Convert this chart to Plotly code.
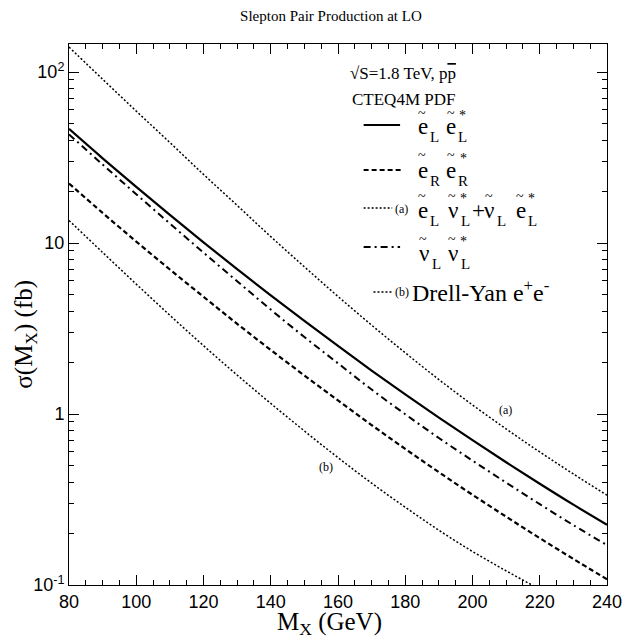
import plotly.graph_objects as go

# ---- data ----
mass = [80, 90, 100, 110, 120, 130, 140, 150, 160, 170, 180, 190, 200, 210, 220, 230, 240]
eLeL = [46.5, 31.3, 21.3, 14.6, 10.1, 7.03, 4.94, 3.50, 2.50, 1.796, 1.303, 0.953, 0.703, 0.522, 0.391, 0.295, 0.225]
eReR = [22.3, 15.0, 10.2, 7.0, 4.85, 3.37, 2.37, 1.68, 1.20, 0.862, 0.625, 0.457, 0.337, 0.251, 0.188, 0.142, 0.108]
eLnuL = [140, 90.8, 59.1, 38.7, 25.2, 16.6, 10.9, 7.26, 4.87, 3.31, 2.28, 1.59, 1.13, 0.818, 0.600, 0.446, 0.335]
nuLnuL = [43.2, 28.8, 19.3, 13.0, 8.79, 5.98, 4.08, 2.82, 1.98, 1.39, 0.997, 0.724, 0.534, 0.397, 0.297, 0.224, 0.171]
drellyan = [13.55, 8.81, 5.75, 3.78, 2.51, 1.69, 1.153, 0.796, 0.556, 0.394, 0.285, 0.209, 0.157, 0.121, 0.0944, 0.0733, 0.0569]

ytick_vals = [0.1, 1, 10, 100]
ytick_text = ["10<sup>-1</sup>", "1", "10", "10<sup>2</sup>"]
xtick_vals = [80, 100, 120, 140, 160, 180, 200, 220, 240]

W, H = 634, 642
L, R, T, B = 69, 19, 44, 57
pw, ph = W - L - R, H - T - B

def px(x):
    return (x - L) / pw

def py(y):
    return 1 - (y - T) / ph

DOT = "2px,2px"
DASH = "5px,3px"
DASHDOT = "7px,4px,2px,4px"

fig = go.Figure()
styles = [
    (eLnuL, dict(color="black", width=1.5, dash=DOT)),
    (eLeL, dict(color="black", width=2.2, dash="solid")),
    (nuLnuL, dict(color="black", width=2, dash=DASHDOT)),
    (eReR, dict(color="black", width=2.2, dash=DASH)),
    (drellyan, dict(color="black", width=1.5, dash=DOT)),
]
for ys, ln in styles:
    fig.add_trace(go.Scatter(x=mass, y=ys, mode="lines", line=dict(shape="spline", **ln),
                             showlegend=False, hoverinfo="skip"))

serif = "Liberation Serif"
sans = "Liberation Sans"

fig.update_layout(
    width=W, height=H,
    margin=dict(l=L, r=R, t=T, b=B),
    paper_bgcolor="white", plot_bgcolor="white",
    title=dict(text="Slepton Pair Production at LO", x=0.522, xanchor="center",
               y=1 - 16 / H, yanchor="middle", font=dict(family=serif, size=15, color="black")),
    xaxis=dict(range=[80, 240], tickvals=xtick_vals, ticks="inside", ticklen=10,
               tickcolor="black", showline=True, linecolor="black", linewidth=1, mirror="allticks",
               showgrid=False, zeroline=False,
               minor=dict(dtick=5, ticks="inside", ticklen=5, tickcolor="black", showgrid=False),
               tickfont=dict(family=sans, size=18, color="black")),
    yaxis=dict(type="log", range=[-1, 2.164], tickvals=ytick_vals, ticktext=ytick_text,
               ticks="inside", ticklen=10, tickcolor="black", showline=True, linecolor="black",
               linewidth=1, mirror="allticks", showgrid=False, zeroline=False,
               minor=dict(dtick="D1", ticks="inside", ticklen=5, tickcolor="black", showgrid=False),
               tickfont=dict(family=sans, size=18, color="black")),
)

ann = []
def text(x, y, s, size, xanchor="left", family=serif, angle=0, yanchor="middle"):
    ann.append(dict(x=px(x), y=py(y), xref="paper", yref="paper", text=s, showarrow=False,
                    xanchor=xanchor, yanchor=yanchor, textangle=angle,
                    font=dict(family=family, size=size, color="black")))

# axis titles
text(333, 641, "M<sub>X</sub> (GeV)", 25, "center", yanchor="bottom")
text(24, 334, "σ(M<sub>X</sub>) (fb)", 25, "center", angle=-90)

text(408, 73, "√S=1.8 TeV, p<span style='text-decoration:overline'>p</span>", 17, "center")
text(408, 100, "CTEQ4M PDF", 17, "center")

# legend sample lines
samples = [
    (368, 405, 125, "solid", 2.2),
    (368, 407, 170, DASH, 2.2),
    (368, 397, 208, DOT, 1.3),
    (368, 405, 247, DASHDOT, 2),
    (378, 398, 292, DOT, 1.3),
]
shapes = []
for x0, x1, y, dash, w in samples:
    shapes.append(dict(type="line", xref="paper", yref="paper", x0=px(x0), x1=px(x1),
                       y0=py(y), y1=py(y), line=dict(color="black", width=w, dash=dash)))

MAIN, SUB, TIL = 23, 15, 14
STAR_DY = 5

# row 1: e_L e_L*
for xg in (421, 450):
    text(xg, 126, "e", MAIN)
    text(xg + 12, 137, "L", SUB)
for xt in (427, 457):
    text(xt, 113, "~", TIL, "center")
text(468, 110 + STAR_DY, "*", TIL, "center")

# row 2: e_R e_R*
for xg in (421, 450):
    text(xg, 170, "e", MAIN)
    text(xg + 12, 181, "R", SUB)
for xt in (427, 457):
    text(xt, 156, "~", TIL, "center")
text(469, 153 + STAR_DY, "*", TIL, "center")

# row 3: (a) e_L nu_L* + nu_L e_L*
text(398, 209, "(a)", 12)
text(421, 210, "e", MAIN)
text(433, 221, "L", SUB)
text(452, 210, "ν", MAIN)
text(465, 221, "L", SUB)
text(476, 210, "+", MAIN)
text(488, 210, "ν", MAIN)
text(501, 221, "L", SUB)
text(521, 210, "e", MAIN)
text(533, 221, "L", SUB)
for xt in (427, 458, 495, 527):
    text(xt, 196, "~", TIL, "center")
for xs in (469, 538):
    text(xs, 193 + STAR_DY, "*", TIL, "center")

# row 4: nu_L nu_L*
for xg in (422, 452):
    text(xg, 253, "ν", MAIN)
    text(xg + 13, 264, "L", SUB)
for xt in (428, 458):
    text(xt, 240, "~", TIL, "center")
text(469, 237 + STAR_DY, "*", TIL, "center")

# row 5: (b) Drell-Yan
text(398, 292, "(b)", 12)
text(415, 291, "Drell-Yan e<sup>+</sup>e<sup>-</sup>", 24)

# curve tags
text(512, 410, "(a)", 12, "center")
text(330, 467, "(b)", 12, "center")

fig.update_layout(annotations=ann, shapes=shapes)
fig.write_html("out.html")
